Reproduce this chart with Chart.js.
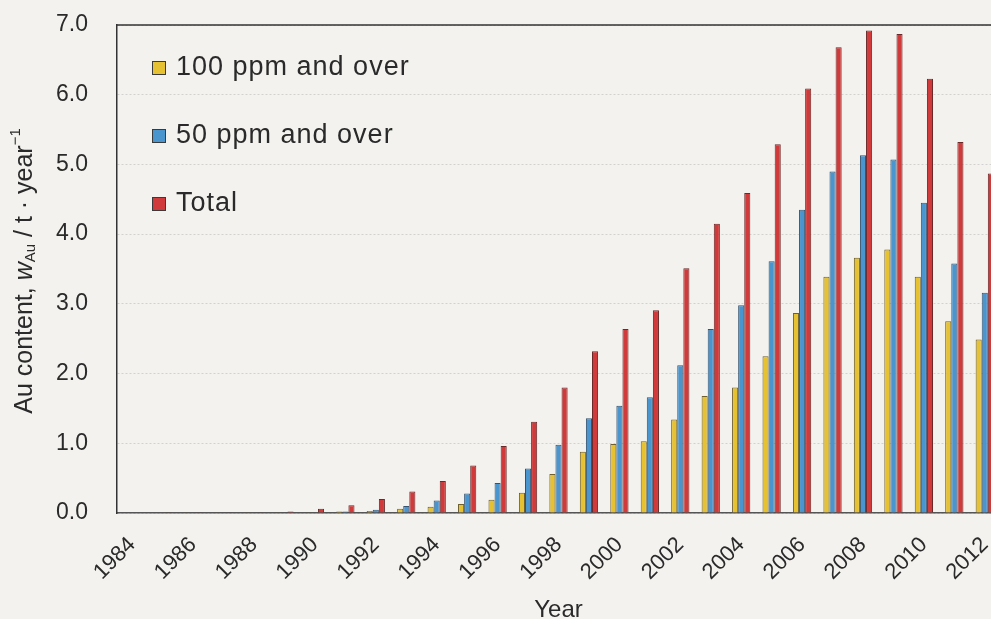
<!DOCTYPE html>
<html>
<head>
<meta charset="utf-8">
<script src="https://cdn.jsdelivr.net/npm/chart.js@4.4.1/dist/chart.umd.min.js"></script>
<style>
  html, body { margin: 0; padding: 0; background: #f3f2ee; overflow: hidden; width: 991px; height: 619px; }
  #wrap { position: relative; width: 1000px; height: 619px; }
  canvas { display: block; }
</style>
</head>
<body>
<div id="wrap"><canvas id="c" width="1000" height="619"></canvas></div>
<script>
const years = ['1984','1985','1986','1987','1988','1989','1990','1991','1992','1993','1994','1995','1996','1997','1998','1999','2000','2001','2002','2003','2004','2005','2006','2007','2008','2009','2010','2011','2012'];
const ppm100 = [0,0,0.005,0.005,0.005,0.005,0.005,0.02,0.03,0.06,0.09,0.13,0.19,0.29,0.56,0.88,0.99,1.03,1.34,1.68,1.80,2.25,2.87,3.39,3.66,3.78,3.39,2.75,2.49];
const ppm50 = [0,0,0.005,0.005,0.005,0.005,0.008,0.02,0.045,0.10,0.18,0.28,0.43,0.64,0.98,1.36,1.54,1.66,2.12,2.64,2.98,3.61,4.35,4.90,5.13,5.07,4.45,3.58,3.16];
const total = [0,0.01,0.01,0.01,0.01,0.02,0.06,0.11,0.20,0.31,0.46,0.68,0.96,1.31,1.80,2.32,2.64,2.91,3.51,4.15,4.59,5.29,6.09,6.68,6.92,6.87,6.23,5.32,4.87];
const seriesNames = ['100 ppm and over','50 ppm and over','Total'];
const yTicks = [0,1,2,3,4,5,6,7];

const FONT = '"Liberation Sans", Arial, Helvetica, sans-serif';
const TEXT = '#2a2a2a';

const legendPlugin = {
  id: 'inLegend',
  afterDraw(chart) {
    const ctx = chart.ctx, a = chart.chartArea;
    ctx.save();
    chart.data.datasets.forEach((ds, i) => {
      const cy = a.top + 43 + i * 68;
      const x = a.left + 35;
      ctx.fillStyle = ds.backgroundColor;
      ctx.fillRect(x, cy - 7, 14, 14);
      ctx.strokeStyle = '#3a3a3a';
      ctx.lineWidth = 1;
      ctx.strokeRect(x + 0.5, cy - 6.5, 13, 13);
      ctx.fillStyle = TEXT;
      ctx.font = '27px ' + FONT;
      if ('letterSpacing' in ctx) ctx.letterSpacing = '1px';
      ctx.textBaseline = 'middle';
      ctx.textAlign = 'left';
      ctx.fillText(ds.label, x + 24, cy);
      if ('letterSpacing' in ctx) ctx.letterSpacing = '0px';
    });
    ctx.restore();
  }
};

const framePlugin = {
  id: 'frame',
  afterDraw(chart) {
    const ctx = chart.ctx, a = chart.chartArea;
    ctx.save();
    ctx.strokeStyle = '#333';
    ctx.lineWidth = 1.5;
    ctx.beginPath();
    ctx.moveTo(a.left, a.top);
    ctx.lineTo(a.right, a.top);
    ctx.stroke();
    ctx.restore();
  }
};

const yTitlePlugin = {
  id: 'yTitle',
  afterDraw(chart) {
    const ctx = chart.ctx, a = chart.chartArea;
    const segs = [
      {t: 'Au content, ', f: '25px ' + FONT, dy: 0},
      {t: 'w', f: 'italic 25px ' + FONT, dy: 0},
      {t: 'Au', f: '15px ' + FONT, dy: 6},
      {t: ' / t \u00b7 year', f: '25px ' + FONT, dy: 0},
      {t: '\u22121', f: '15px ' + FONT, dy: -9}
    ];
    ctx.save();
    let w = 0;
    segs.forEach(s => { ctx.font = s.f; s.w = ctx.measureText(s.t).width; w += s.w; });
    ctx.translate(25, (a.top + a.bottom) / 2 + 2);
    ctx.rotate(-Math.PI / 2);
    ctx.fillStyle = TEXT;
    ctx.textBaseline = 'middle';
    ctx.textAlign = 'left';
    let x = -w / 2;
    segs.forEach(s => { ctx.font = s.f; ctx.fillText(s.t, x, s.dy); x += s.w; });
    ctx.restore();
  }
};

new Chart(document.getElementById('c'), {
  type: 'bar',
  data: {
    labels: years,
    datasets: [
      {label: seriesNames[0], data: ppm100, backgroundColor: '#e6c233', borderColor: '#6e5f2c', borderWidth: 1},
      {label: seriesNames[1], data: ppm50, backgroundColor: '#4b95cf', borderColor: '#34536e', borderWidth: 1},
      {label: seriesNames[2], data: total, backgroundColor: '#d03a3a', borderColor: '#6b2a2a', borderWidth: 1}
    ]
  },
  options: {
    responsive: false,
    devicePixelRatio: 1,
    animation: false,
    layout: {padding: {top: 25, left: 0, right: 0, bottom: 0}},
    datasets: {bar: {categoryPercentage: 0.6, barPercentage: 1.0}},
    plugins: {legend: {display: false}, tooltip: {enabled: false}, title: {display: false}},
    scales: {
      x: {
        grid: {display: false, drawTicks: false},
        border: {display: true, color: '#555', width: 1.5},
        ticks: {
          autoSkip: false, maxRotation: 45, minRotation: 45, padding: 19,
          color: TEXT, font: {size: 22, family: FONT},
          callback: function(v) { const l = this.getLabelForValue(v); return (parseInt(l) % 2 === 0) ? l : ''; }
        },
        title: {display: true, text: 'Year', color: TEXT, font: {size: 24, family: FONT}, padding: {top: 0, bottom: -6}},
        afterFit: s => { s.height = 106; s.paddingLeft = 0; s.paddingRight = 0; }
      },
      y: {
        min: 0, max: 7,
        afterBuildTicks: s => { s.ticks = yTicks.map(v => ({value: v})); },
        grid: {color: 'rgba(150,150,150,0.35)', lineWidth: 1, drawTicks: false},
        border: {display: true, color: '#333', width: 1.5, dash: [2, 2]},
        ticks: {padding: 29, color: TEXT, font: {size: 23, family: FONT}, callback: v => v.toFixed(1)},
        afterFit: s => { s.width = 117; s.paddingTop = 0; s.paddingBottom = 0; }
      }
    }
  },
  plugins: [legendPlugin, framePlugin, yTitlePlugin]
});
</script>
</body>
</html>
